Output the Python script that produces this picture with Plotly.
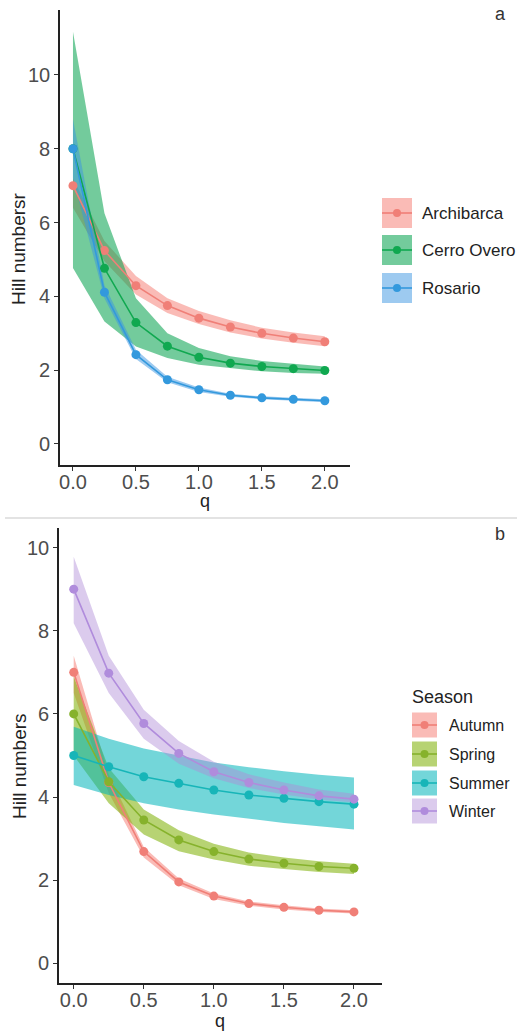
import plotly.graph_objects as go

# ---------------- data ----------------
q = [0.0, 0.25, 0.5, 0.75, 1.0, 1.25, 1.5, 1.75, 2.0]

# panel a : sites
site_names = ["Archibarca", "Cerro Overo", "Rosario"]
arch = [7.0, 5.24, 4.29, 3.75, 3.41, 3.17, 3.0, 2.87, 2.77]
arch_lo = [6.4, 4.95, 4.05, 3.55, 3.25, 3.02, 2.86, 2.74, 2.65]
arch_hi = [7.2, 5.5, 4.55, 3.95, 3.6, 3.35, 3.15, 3.02, 2.92]
cerro = [8.0, 4.76, 3.29, 2.65, 2.35, 2.19, 2.1, 2.04, 1.99]
cerro_lo = [4.77, 3.32, 2.64, 2.33, 2.15, 2.05, 1.97, 1.92, 1.9]
cerro_hi = [11.17, 6.25, 3.95, 3.0, 2.6, 2.38, 2.25, 2.17, 2.1]
ros = [8.0, 4.11, 2.42, 1.74, 1.47, 1.32, 1.25, 1.21, 1.17]
ros_lo = [7.2, 3.95, 2.3, 1.67, 1.41, 1.28, 1.21, 1.17, 1.13]
ros_hi = [8.8, 4.3, 2.55, 1.82, 1.53, 1.36, 1.29, 1.25, 1.21]

# panel b : seasons
season_names = ["Autumn", "Spring", "Summer", "Winter"]
autumn = [7.0, 4.35, 2.69, 1.96, 1.62, 1.44, 1.35, 1.28, 1.24]
autumn_lo = [6.5, 4.1, 2.55, 1.88, 1.55, 1.39, 1.3, 1.24, 1.2]
autumn_hi = [7.4, 4.55, 2.8, 2.04, 1.68, 1.49, 1.4, 1.32, 1.28]
spring = [6.0, 4.37, 3.45, 2.97, 2.69, 2.51, 2.41, 2.33, 2.29]
spring_lo = [5.0, 3.85, 3.1, 2.7, 2.5, 2.35, 2.27, 2.2, 2.15]
spring_hi = [6.9, 4.7, 3.7, 3.2, 2.88, 2.67, 2.55, 2.46, 2.4]
summer = [5.0, 4.73, 4.49, 4.33, 4.17, 4.05, 3.97, 3.89, 3.83]
summer_lo = [4.29, 4.05, 3.85, 3.7, 3.58, 3.48, 3.38, 3.3, 3.22]
summer_hi = [5.69, 5.4, 5.17, 5.0, 4.83, 4.72, 4.62, 4.54, 4.47]
winter = [9.0, 6.98, 5.77, 5.05, 4.61, 4.35, 4.17, 4.03, 3.95]
winter_lo = [8.18, 6.5, 5.4, 4.8, 4.45, 4.22, 4.06, 3.94, 3.87]
winter_hi = [9.78, 7.4, 6.1, 5.35, 4.85, 4.55, 4.35, 4.18, 4.08]

x_ticks = [0.0, 0.5, 1.0, 1.5, 2.0]
y_ticks = [0, 2, 4, 6, 8, 10]

# ---------------- styles ----------------
W, H = 517, 1032
FONT = "Liberation Sans, Arial, sans-serif"
TICK_COL = "#4d4d4d"

site_cols = ["#F07F77", "#10A850", "#3399DD"]
site_fill = ["rgba(245,120,110,0.50)", "rgba(0,160,75,0.55)", "rgba(60,150,225,0.50)"]
season_cols = ["#F07F77", "#86B22C", "#17B5B8", "#B08CDC"]
season_fill = ["rgba(245,120,110,0.50)", "rgba(124,174,0,0.55)",
               "rgba(0,180,185,0.55)", "rgba(175,140,215,0.45)"]

fig = go.Figure()


def add_series(mean, lo, hi, col, fill, xa, ya):
    fig.add_trace(go.Scatter(x=q, y=hi, mode="lines", line=dict(width=0, color=col),
                             xaxis=xa, yaxis=ya, showlegend=False, hoverinfo="skip"))
    fig.add_trace(go.Scatter(x=q, y=lo, mode="lines", line=dict(width=0, color=col),
                             fill="tonexty", fillcolor=fill,
                             xaxis=xa, yaxis=ya, showlegend=False, hoverinfo="skip"))


def add_line(mean, col, name, xa, ya):
    fig.add_trace(go.Scatter(x=q, y=mean, mode="lines+markers", name=name,
                             line=dict(width=1.6, color=col),
                             marker=dict(size=9, color=col),
                             xaxis=xa, yaxis=ya, showlegend=False))


a_series = [(arch, arch_lo, arch_hi), (cerro, cerro_lo, cerro_hi), (ros, ros_lo, ros_hi)]
for i, (m, lo, hi) in enumerate(a_series):
    add_series(m, lo, hi, site_cols[i], site_fill[i], "x", "y")
for i, (m, lo, hi) in enumerate(a_series):
    add_line(m, site_cols[i], site_names[i], "x", "y")

b_series = [(autumn, autumn_lo, autumn_hi), (spring, spring_lo, spring_hi),
            (summer, summer_lo, summer_hi), (winter, winter_lo, winter_hi)]
for i, (m, lo, hi) in enumerate(b_series):
    add_series(m, lo, hi, season_cols[i], season_fill[i], "x2", "y2")
for i, (m, lo, hi) in enumerate(b_series):
    add_line(m, season_cols[i], season_names[i], "x2", "y2")


def px(x):
    return x / W


def py(y):
    return 1 - y / H


axis_common = dict(showgrid=False, zeroline=False, showline=True, linecolor="#222",
                   linewidth=1.6, ticks="outside", ticklen=4, tickcolor="#333",
                   tickwidth=1, tickfont=dict(family=FONT, size=20, color=TICK_COL))

fig.update_layout(
    width=W, height=H, autosize=False,
    margin=dict(l=0, r=0, t=0, b=0),
    paper_bgcolor="white", plot_bgcolor="white",
    showlegend=False,
    xaxis=dict(domain=[px(60), px(350)], range=[-0.103, 2.2], anchor="y",
               tickvals=x_ticks, tickformat=".1f", ticklabelstandoff=-6, **axis_common),
    yaxis=dict(domain=[py(465), py(10)], range=[-0.57, 11.76], anchor="x",
               tickvals=y_ticks, **axis_common),
    xaxis2=dict(domain=[px(59), px(382)], range=[-0.105, 2.2], anchor="y2",
                tickvals=x_ticks, tickformat=".1f", ticklabelstandoff=-6, **axis_common),
    yaxis2=dict(domain=[py(983), py(528)], range=[-0.47, 10.47], anchor="x2",
                tickvals=y_ticks, **axis_common),
)

ann = []
shapes = []

# separator between panels
shapes.append(dict(type="line", xref="paper", yref="paper", x0=px(5), x1=1,
                   y0=py(518), y1=py(518), line=dict(color="#e3e3e3", width=2)))


def text(t, x, y, size, angle=0, xanchor="center", color="#222"):
    ann.append(dict(text=t, x=px(x), y=py(y), xref="paper", yref="paper",
                    showarrow=False, xanchor=xanchor, yanchor="middle",
                    textangle=angle, font=dict(family=FONT, size=size, color=color)))


text("q", 205, 501, 18)
text("q", 220, 1021, 18)
text("Hill numbersr", 19, 249, 19, angle=-90)
text("Hill numbers", 19, 766, 19, angle=-90)
text("a", 500, 14, 18, color="#333")
text("b", 500, 534, 18, color="#333")


def legend_key(x0, x1, yc, h, col, fill):
    shapes.append(dict(type="rect", xref="paper", yref="paper",
                       x0=px(x0), x1=px(x1), y0=py(yc + h / 2), y1=py(yc - h / 2),
                       fillcolor=fill, line=dict(width=0)))
    shapes.append(dict(type="line", xref="paper", yref="paper",
                       x0=px(x0), x1=px(x1), y0=py(yc), y1=py(yc),
                       line=dict(color=col, width=1.6)))
    r = 4
    xc = (x0 + x1) / 2
    shapes.append(dict(type="circle", xref="paper", yref="paper",
                       x0=px(xc - r), x1=px(xc + r), y0=py(yc + r), y1=py(yc - r),
                       fillcolor=col, line=dict(width=0)))


# legend a
for i, yc in enumerate([213, 250, 288]):
    legend_key(382, 412, yc, 30, site_cols[i], site_fill[i])
    text(site_names[i], 420, yc, 17, xanchor="left")

# legend b
text("Season", 410, 697, 18, xanchor="left")
for i, yc in enumerate([725, 754, 783, 811]):
    legend_key(412, 437, yc, 25, season_cols[i], season_fill[i])
    text(season_names[i], 447, yc, 16, xanchor="left")

fig.update_layout(annotations=ann, shapes=shapes)

fig.write_html("out.html")
